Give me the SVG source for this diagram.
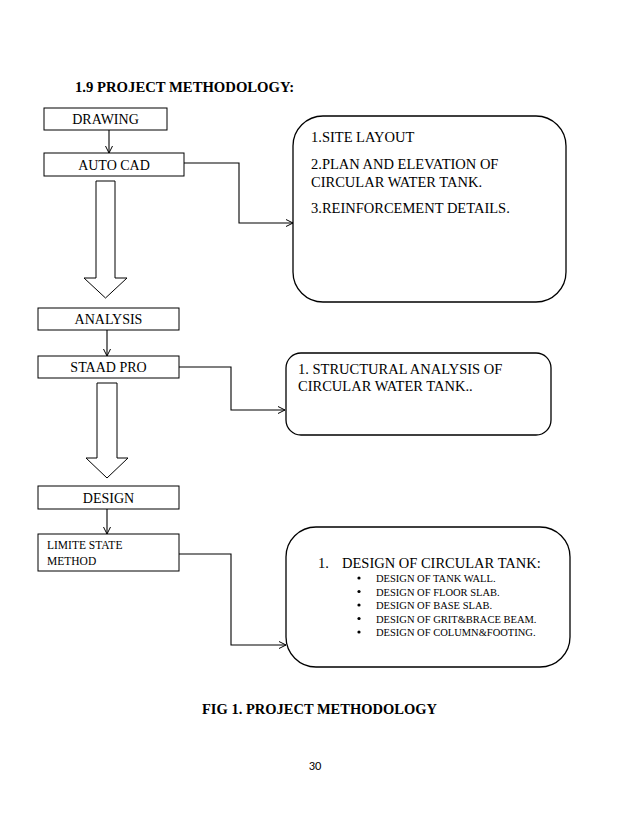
<svg xmlns="http://www.w3.org/2000/svg" width="638" height="826" viewBox="0 0 638 826">
<style>
.t{font-family:"Liberation Serif","Times New Roman",serif;fill:#000}
.n{font-size:14px}
.box{fill:#fff;stroke:#000;stroke-width:1}
.rbox{fill:#fff;stroke:#000;stroke-width:1.3}
.ln{fill:none;stroke:#000;stroke-width:1.1}
.blk{fill:#fff;stroke:#000;stroke-width:1}
</style>
<defs>
<marker id="ah" viewBox="0 0 8 8" refX="7.5" refY="4" markerWidth="8" markerHeight="8" markerUnits="userSpaceOnUse" orient="auto">
<path d="M0.5,0.5 L7.5,4 L0.5,7.5" fill="none" stroke="#000" stroke-width="1"/>
</marker>
</defs>
<rect width="638" height="826" fill="#fff"/>
<text class="t" x="75" y="92" font-size="14.7" font-weight="bold">1.9 PROJECT METHODOLOGY:</text>

<g id="connectors">
<line class="ln" x1="109" y1="130" x2="109" y2="153" marker-end="url(#ah)"/>
<polyline class="ln" points="184,163 239,163 239,223 293,223" marker-end="url(#ah)"/>
<line class="ln" x1="107" y1="330" x2="107" y2="356" marker-end="url(#ah)"/>
<polyline class="ln" points="179,367 231,367 231,410 285,410" marker-end="url(#ah)"/>
<line class="ln" x1="107" y1="509" x2="107" y2="534" marker-end="url(#ah)"/>
<polyline class="ln" points="179,554 231,554 231,645 286,645" marker-end="url(#ah)"/>
<polygon class="blk" points="96,181 115,181 115,278 127,278 105.5,298 84,278 96,278"/>
<polygon class="blk" points="97,383 117,383 117,458 128,458 107,478 86,458 97,458"/>
</g>

<g id="drawing">
<rect class="box" x="44" y="108" width="123" height="22"/>
<text class="t n" x="105.5" y="124" text-anchor="middle">DRAWING</text>
</g>
<g id="autocad">
<rect class="box" x="44" y="153" width="140" height="23"/>
<text class="t n" x="114" y="170" text-anchor="middle">AUTO CAD</text>
</g>
<g id="drawing-output">
<rect class="rbox" x="293" y="116" width="273" height="186" rx="30" ry="30"/>
<text class="t" x="311" y="142" font-size="14.5">1.SITE LAYOUT</text>
<text class="t" x="311" y="169" font-size="14.5">2.PLAN AND ELEVATION OF</text>
<text class="t" x="311" y="187" font-size="14.5">CIRCULAR WATER TANK.</text>
<text class="t" x="311" y="213" font-size="14.5">3.REINFORCEMENT DETAILS.</text>
</g>

<g id="analysis">
<rect class="box" x="38" y="308" width="141" height="22"/>
<text class="t n" x="108.5" y="324" text-anchor="middle">ANALYSIS</text>
</g>
<g id="staadpro">
<rect class="box" x="38" y="356" width="141" height="22"/>
<text class="t n" x="108.5" y="372" text-anchor="middle">STAAD PRO</text>
</g>
<g id="analysis-output">
<rect class="rbox" x="286" y="353" width="265" height="82" rx="15" ry="15"/>
<text class="t" x="298" y="374" font-size="14.5">1. STRUCTURAL ANALYSIS OF</text>
<text class="t" x="298" y="391" font-size="14.5">CIRCULAR WATER TANK..</text>
</g>

<g id="design">
<rect class="box" x="38" y="486" width="141" height="23"/>
<text class="t n" x="108.5" y="503" text-anchor="middle">DESIGN</text>
</g>
<g id="limitstate">
<rect class="box" x="38" y="534" width="141" height="37"/>
<text class="t" x="47" y="549" font-size="11.5">LIMITE STATE</text>
<text class="t" x="47" y="565" font-size="11.5">METHOD</text>
</g>
<g id="design-output">
<rect class="rbox" x="286" y="527" width="284" height="140" rx="30" ry="30"/>
<text class="t" x="318" y="568" font-size="14.5">1.</text>
<text class="t" x="342" y="568" font-size="14.5">DESIGN OF CIRCULAR TANK:</text>
<g font-size="10.5">
<circle cx="359" cy="578" r="1.6"/>
<circle cx="359" cy="591.5" r="1.6"/>
<circle cx="359" cy="605" r="1.6"/>
<circle cx="359" cy="618.5" r="1.6"/>
<circle cx="359" cy="632" r="1.6"/>
<text class="t" x="376" y="582">DESIGN OF TANK WALL.</text>
<text class="t" x="376" y="595.5">DESIGN OF FLOOR SLAB.</text>
<text class="t" x="376" y="609">DESIGN OF BASE SLAB.</text>
<text class="t" x="376" y="622.5">DESIGN OF GRIT&amp;BRACE BEAM.</text>
<text class="t" x="376" y="636">DESIGN OF COLUMN&amp;FOOTING.</text>
</g>
</g>

<text class="t" x="202" y="714" font-size="14.5" font-weight="bold">FIG 1. PROJECT METHODOLOGY</text>
<text x="315" y="770" font-size="12.5" font-family="Carlito,'Liberation Sans',Arial,sans-serif" text-anchor="middle" fill="#000">30</text>
</svg>
